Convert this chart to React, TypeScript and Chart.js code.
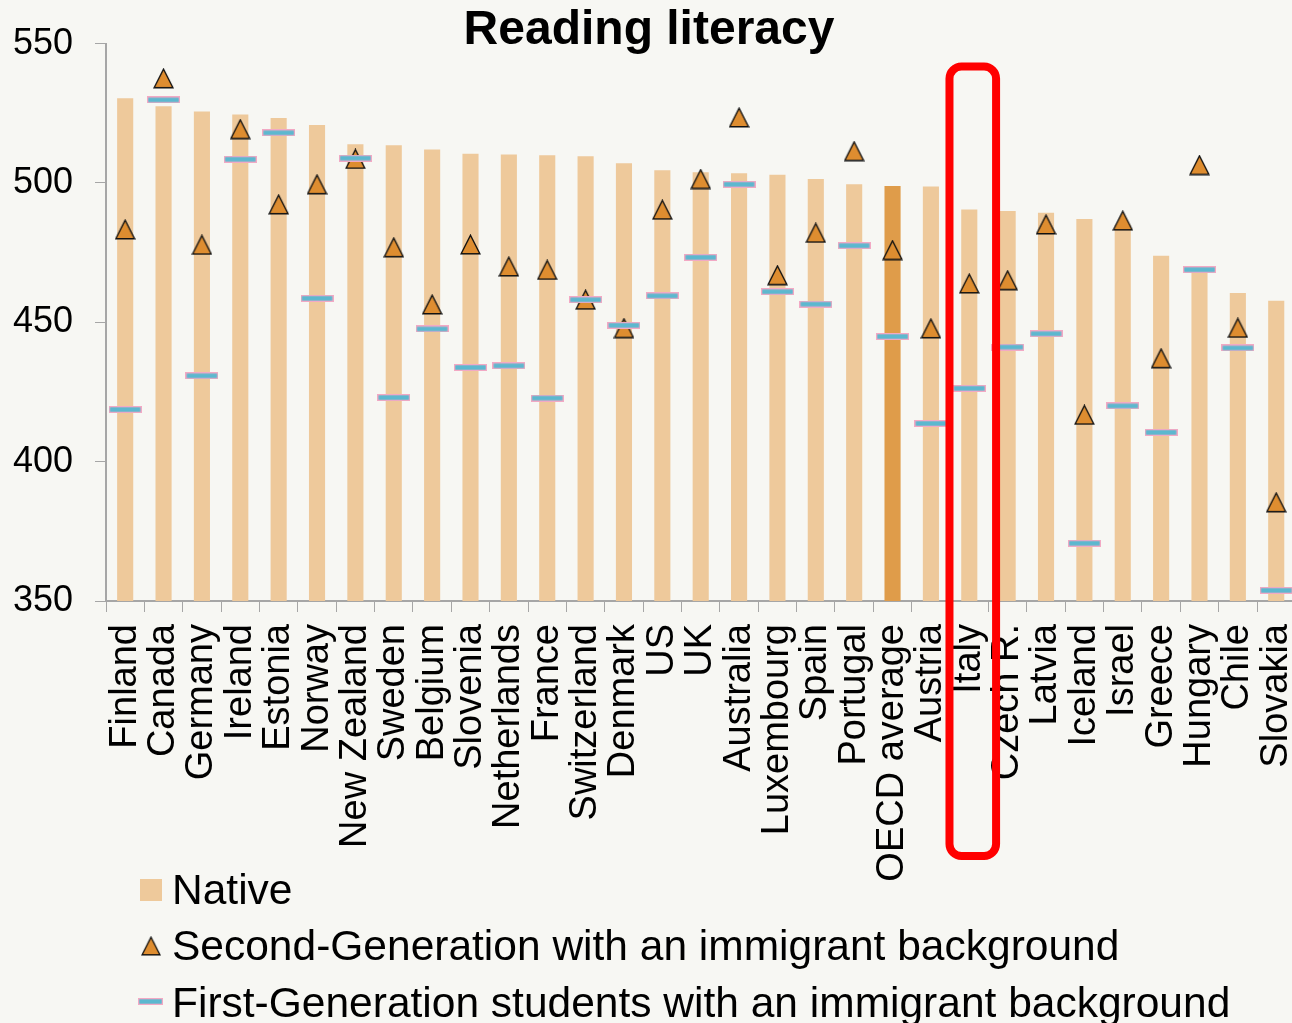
import { useEffect, useRef } from 'react';
import { Chart, registerables } from 'chart.js';

Chart.register(...registerables);

const categories = [
  'Finland', 'Canada', 'Germany', 'Ireland', 'Estonia', 'Norway', 'New Zealand', 'Sweden',
  'Belgium', 'Slovenia', 'Netherlands', 'France', 'Switzerland', 'Denmark', 'US', 'UK',
  'Australia', 'Luxembourg', 'Spain', 'Portugal', 'OECD average', 'Austria', 'Italy',
  'Czech R.', 'Latvia', 'Iceland', 'Israel', 'Greece', 'Hungary', 'Chile', 'Slovakia',
];

const nativeScores = [
  530.4, 527.5, 525.6, 524.6, 523.3, 520.8, 513.9, 513.5, 512.0, 510.5, 510.2, 509.9, 509.6,
  507.1, 504.6, 503.8, 503.5, 502.9, 501.4, 499.5, 498.9, 498.7, 490.5, 489.9, 489.3, 487.1,
  485.0, 473.9, 469.0, 460.5, 457.7,
];

const secondGeneration = [
  483.3, 537.5, 477.8, 519.3, 492.3, 499.5, 508.6, 476.9, 456.4, 477.9, 470.0, 468.8, 458.1,
  447.9, 490.4, 501.4, 523.5, 466.9, 482.1, 511.4, 475.9, 447.8, 463.9, 465.1, 485.1, 416.8,
  486.5, 437.1, 506.4, 448.0, 385.4,
];

const firstGeneration = [
  418.7, 529.8, 430.8, 508.5, 518.0, 458.6, 508.9, 423.0, 447.6, 433.8, 434.4, 422.8, 458.1,
  448.9, 459.5, 473.3, 499.5, 461.0, 456.5, 477.5, 444.9, 413.7, 426.3, 441.1, 445.9, 370.7,
  420.0, 410.5, 468.9, 440.8, 353.8,
];

const seriesLabels = [
  'Native',
  'Second-Generation with an immigrant background',
  'First-Generation students with an immigrant background',
];

const yMin = 350;
const yMax = 550;
const yStep = 50;
const chartTitle = 'Reading literacy';
const averageCategory = 'OECD average';
const highlightedCategory = 'Italy';

const FONT = '"Liberation Sans", Arial, Helvetica, sans-serif';
const BG = '#F7F7F3';
const NATIVE_COLOR = '#EEC99B';
const AVERAGE_COLOR = '#DF9C4A';
const TRI_COLOR = '#DE8D30';
const DASH_FILL = '#5CB8CF';
const DASH_BORDER = '#F2A9C4';
const AXIS_COLOR = '#A6A6A6';

function makeTriangle(): HTMLCanvasElement {
  const c = document.createElement('canvas');
  c.width = 21;
  c.height = 21;
  const ctx = c.getContext('2d')!;
  ctx.beginPath();
  ctx.moveTo(10.5, 1.2);
  ctx.lineTo(19.9, 19.8);
  ctx.lineTo(1.1, 19.8);
  ctx.closePath();
  ctx.fillStyle = TRI_COLOR;
  ctx.fill();
  ctx.lineWidth = 1.4;
  ctx.strokeStyle = '#111111';
  ctx.lineJoin = 'miter';
  ctx.stroke();
  return c;
}

function makeDash(w: number): HTMLCanvasElement {
  const c = document.createElement('canvas');
  c.width = w;
  c.height = 7;
  const ctx = c.getContext('2d')!;
  ctx.fillStyle = DASH_BORDER;
  ctx.fillRect(0, 0, w, 7);
  ctx.fillStyle = DASH_FILL;
  ctx.fillRect(1.3, 1.3, w - 2.6, 4.4);
  return c;
}

export default function App() {
  const ref = useRef<HTMLCanvasElement>(null);

  useEffect(() => {
    const canvas = ref.current;
    if (!canvas) return;
    const tri = makeTriangle();
    const dash = makeDash(33);
    const dashLegend = makeDash(25);

    const titlePlugin = {
      id: 'customTitle',
      afterDraw(chart: any) {
        const ctx = chart.ctx;
        ctx.save();
        ctx.font = `bold 48px ${FONT}`;
        ctx.fillStyle = '#000';
        ctx.textAlign = 'center';
        ctx.textBaseline = 'alphabetic';
        ctx.fillText(chartTitle, 649, 44);
        ctx.restore();
      },
    };

    const highlightPlugin = {
      id: 'highlight',
      afterDraw(chart: any) {
        const ctx = chart.ctx;
        const xs = chart.scales.x;
        const idx = categories.indexOf(highlightedCategory);
        const cx = xs.getPixelForValue(idx) + 3.5;
        const left = cx - 23.3;
        const right = cx + 23.3;
        const top = chart.chartArea.top + 23;
        const bottom = chart.chartArea.bottom + 255;
        const r = 12;
        ctx.save();
        ctx.strokeStyle = '#FF0000';
        ctx.lineWidth = 8;
        ctx.beginPath();
        ctx.moveTo(left + r, top);
        ctx.lineTo(right - r, top);
        ctx.arcTo(right, top, right, top + r, r);
        ctx.lineTo(right, bottom - r);
        ctx.arcTo(right, bottom, right - r, bottom, r);
        ctx.lineTo(left + r, bottom);
        ctx.arcTo(left, bottom, left, bottom - r, r);
        ctx.lineTo(left, top + r);
        ctx.arcTo(left, top, left + r, top, r);
        ctx.closePath();
        ctx.stroke();
        ctx.restore();
      },
    };

    const legendPlugin = {
      id: 'customLegend',
      afterDraw(chart: any) {
        const ctx = chart.ctx;
        const ds = chart.data.datasets;
        ctx.save();
        ctx.font = `42.5px ${FONT}`;
        ctx.textAlign = 'left';
        ctx.textBaseline = 'alphabetic';
        ctx.fillStyle = NATIVE_COLOR;
        ctx.fillRect(140, 879, 22, 22);
        ctx.fillStyle = '#000';
        ctx.fillText(ds[0].label, 172, 904);
        ctx.drawImage(tri, 141, 936, 20, 20);
        ctx.fillText(ds[1].label, 172, 960);
        ctx.drawImage(dashLegend, 138, 998);
        ctx.fillText(ds[2].label, 172, 1017);
        ctx.restore();
      },
    };

    const chart = new Chart(canvas, {
      type: 'bar',
      data: {
        labels: categories,
        datasets: [
          {
            type: 'bar',
            label: seriesLabels[0],
            data: nativeScores,
            backgroundColor: categories.map((c) => (c === averageCategory ? AVERAGE_COLOR : NATIVE_COLOR)),
            borderWidth: 0,
            categoryPercentage: 0.42,
            barPercentage: 1,
            order: 3,
          },
          {
            type: 'line',
            label: seriesLabels[1],
            data: secondGeneration,
            showLine: false,
            pointStyle: tri as any,
            pointRadius: 10,
            order: 2,
          },
          {
            type: 'line',
            label: seriesLabels[2],
            data: firstGeneration,
            showLine: false,
            pointStyle: dash as any,
            pointRadius: 10,
            order: 1,
          },
        ] as any,
      },
      options: {
        responsive: false,
        animation: false,
        devicePixelRatio: 1,
        layout: { padding: { top: 42, left: 0, right: 4, bottom: 142 } },
        plugins: {
          legend: { display: false },
          title: { display: false },
          tooltip: { enabled: false },
        },
        scales: {
          x: {
            type: 'category',
            offset: true,
            grid: {
              display: true,
              drawOnChartArea: false,
              drawTicks: true,
              tickLength: 11,
              color: AXIS_COLOR,
              offset: true,
            },
            border: { display: true, color: AXIS_COLOR, width: 2 },
            ticks: {
              color: '#000',
              font: { family: FONT, size: 38 },
              maxRotation: 90,
              minRotation: 90,
              autoSkip: false,
              padding: 12,
            },
            afterFit: (scale: any) => {
              scale.height = 280;
            },
          },
          y: {
            min: yMin,
            max: yMax,
            ticks: {
              stepSize: yStep,
              color: '#000',
              font: { family: FONT, size: 36 },
              padding: 22,
            },
            grid: {
              drawOnChartArea: false,
              drawTicks: true,
              tickLength: 11,
              color: AXIS_COLOR,
            },
            border: { display: true, color: AXIS_COLOR, width: 2 },
            afterFit: (scale: any) => {
              scale.width = 106;
            },
          },
        },
      } as any,
      plugins: [titlePlugin, highlightPlugin, legendPlugin],
    });

    return () => chart.destroy();
  }, []);

  return (
    <div
      style={{
        position: 'fixed',
        left: 0,
        top: 0,
        width: 1292,
        height: 1023,
        overflow: 'hidden',
        background: BG,
      }}
    >
      <canvas ref={ref} width={1334} height={1023} style={{ display: 'block', width: 1334, height: 1023 }} />
    </div>
  );
}
